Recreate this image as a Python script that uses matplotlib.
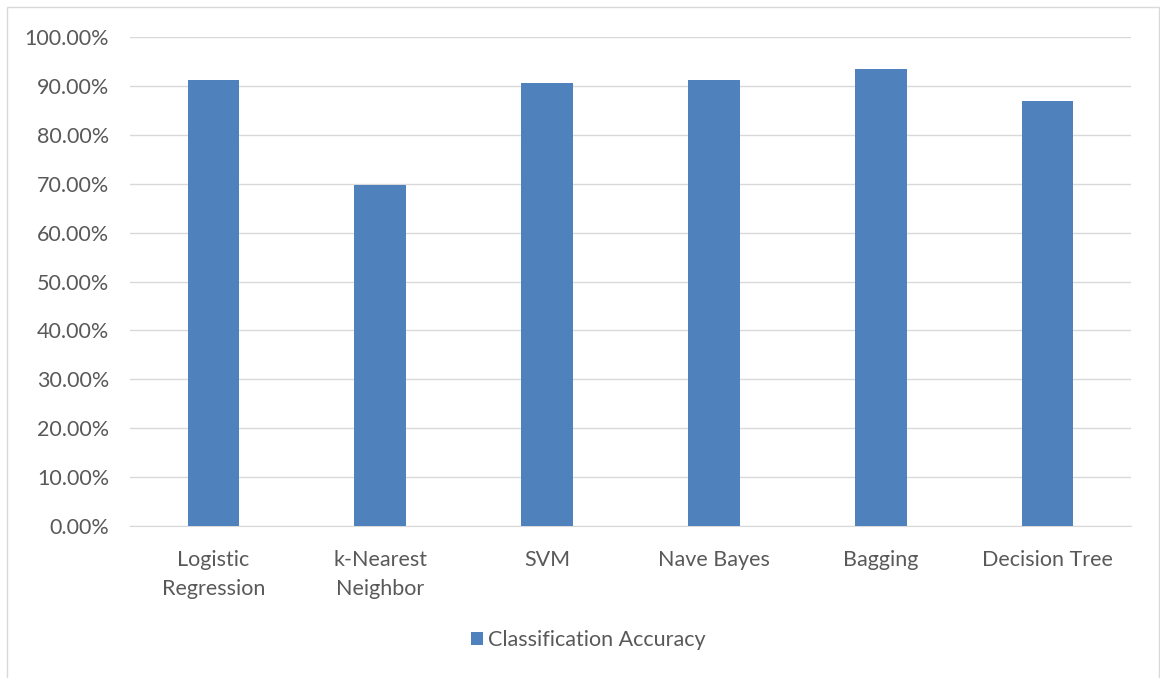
import matplotlib
matplotlib.use('Agg')
import matplotlib.pyplot as plt
from matplotlib.patches import Rectangle
from matplotlib.ticker import FuncFormatter, MultipleLocator

models = ['Logistic\nRegression', 'k-Nearest\nNeighbor', 'SVM', 'Nave Bayes', 'Bagging', 'Decision Tree']
accuracy = [0.912, 0.698, 0.905, 0.912, 0.934, 0.869]

plt.rcParams['font.family'] = ['Lato', 'DejaVu Sans']

W, H = 1160, 678
fig = plt.figure(figsize=(W / 100, H / 100), dpi=100)

# outer chart frame
fig.patches.append(Rectangle((7 / W, -0.01), (1159 - 7) / W, (H - 7) / H + 0.01,
                             transform=fig.transFigure, fill=False,
                             edgecolor='#d9d9d9', linewidth=1))

ax = fig.add_axes([130 / W, (H - 526) / H, (1131 - 130) / W, (526 - 37) / H])
x = range(len(models))
bars = ax.bar(x, accuracy, width=0.31, color='#4f81bd', zorder=3,
              label='Classification Accuracy')

ax.set_xlim(-0.5, len(models) - 0.5)
ax.set_ylim(0, 1.0)
ax.yaxis.set_major_locator(MultipleLocator(0.1))
ax.yaxis.set_major_formatter(FuncFormatter(lambda v, p: '{:.2f}%'.format(v * 100)))
ax.grid(axis='y', color='#d9d9d9', linewidth=1, zorder=0)
for s in ['top', 'right', 'left']:
    ax.spines[s].set_visible(False)
ax.spines['bottom'].set_color('#d9d9d9')
ax.tick_params(axis='both', length=0, labelsize=15.5, colors='#595959')
ax.tick_params(axis='x', pad=17)
ax.tick_params(axis='y', pad=15)
ax.set_xticks(list(x))
ax.set_xticklabels(models, linespacing=1.6)
ax.set_yticks([i / 10 for i in range(11)])

fig.legend(handles=[bars], labels=['Classification Accuracy'], loc='center',
           bbox_to_anchor=(0.5 + 8 / W, (H - 640) / H), frameon=False, fontsize=15.5,
           labelcolor='#595959', handlelength=0.6, handleheight=0.6,
           handletextpad=0.2)

fig.savefig('out.png', dpi=100, facecolor='white')
